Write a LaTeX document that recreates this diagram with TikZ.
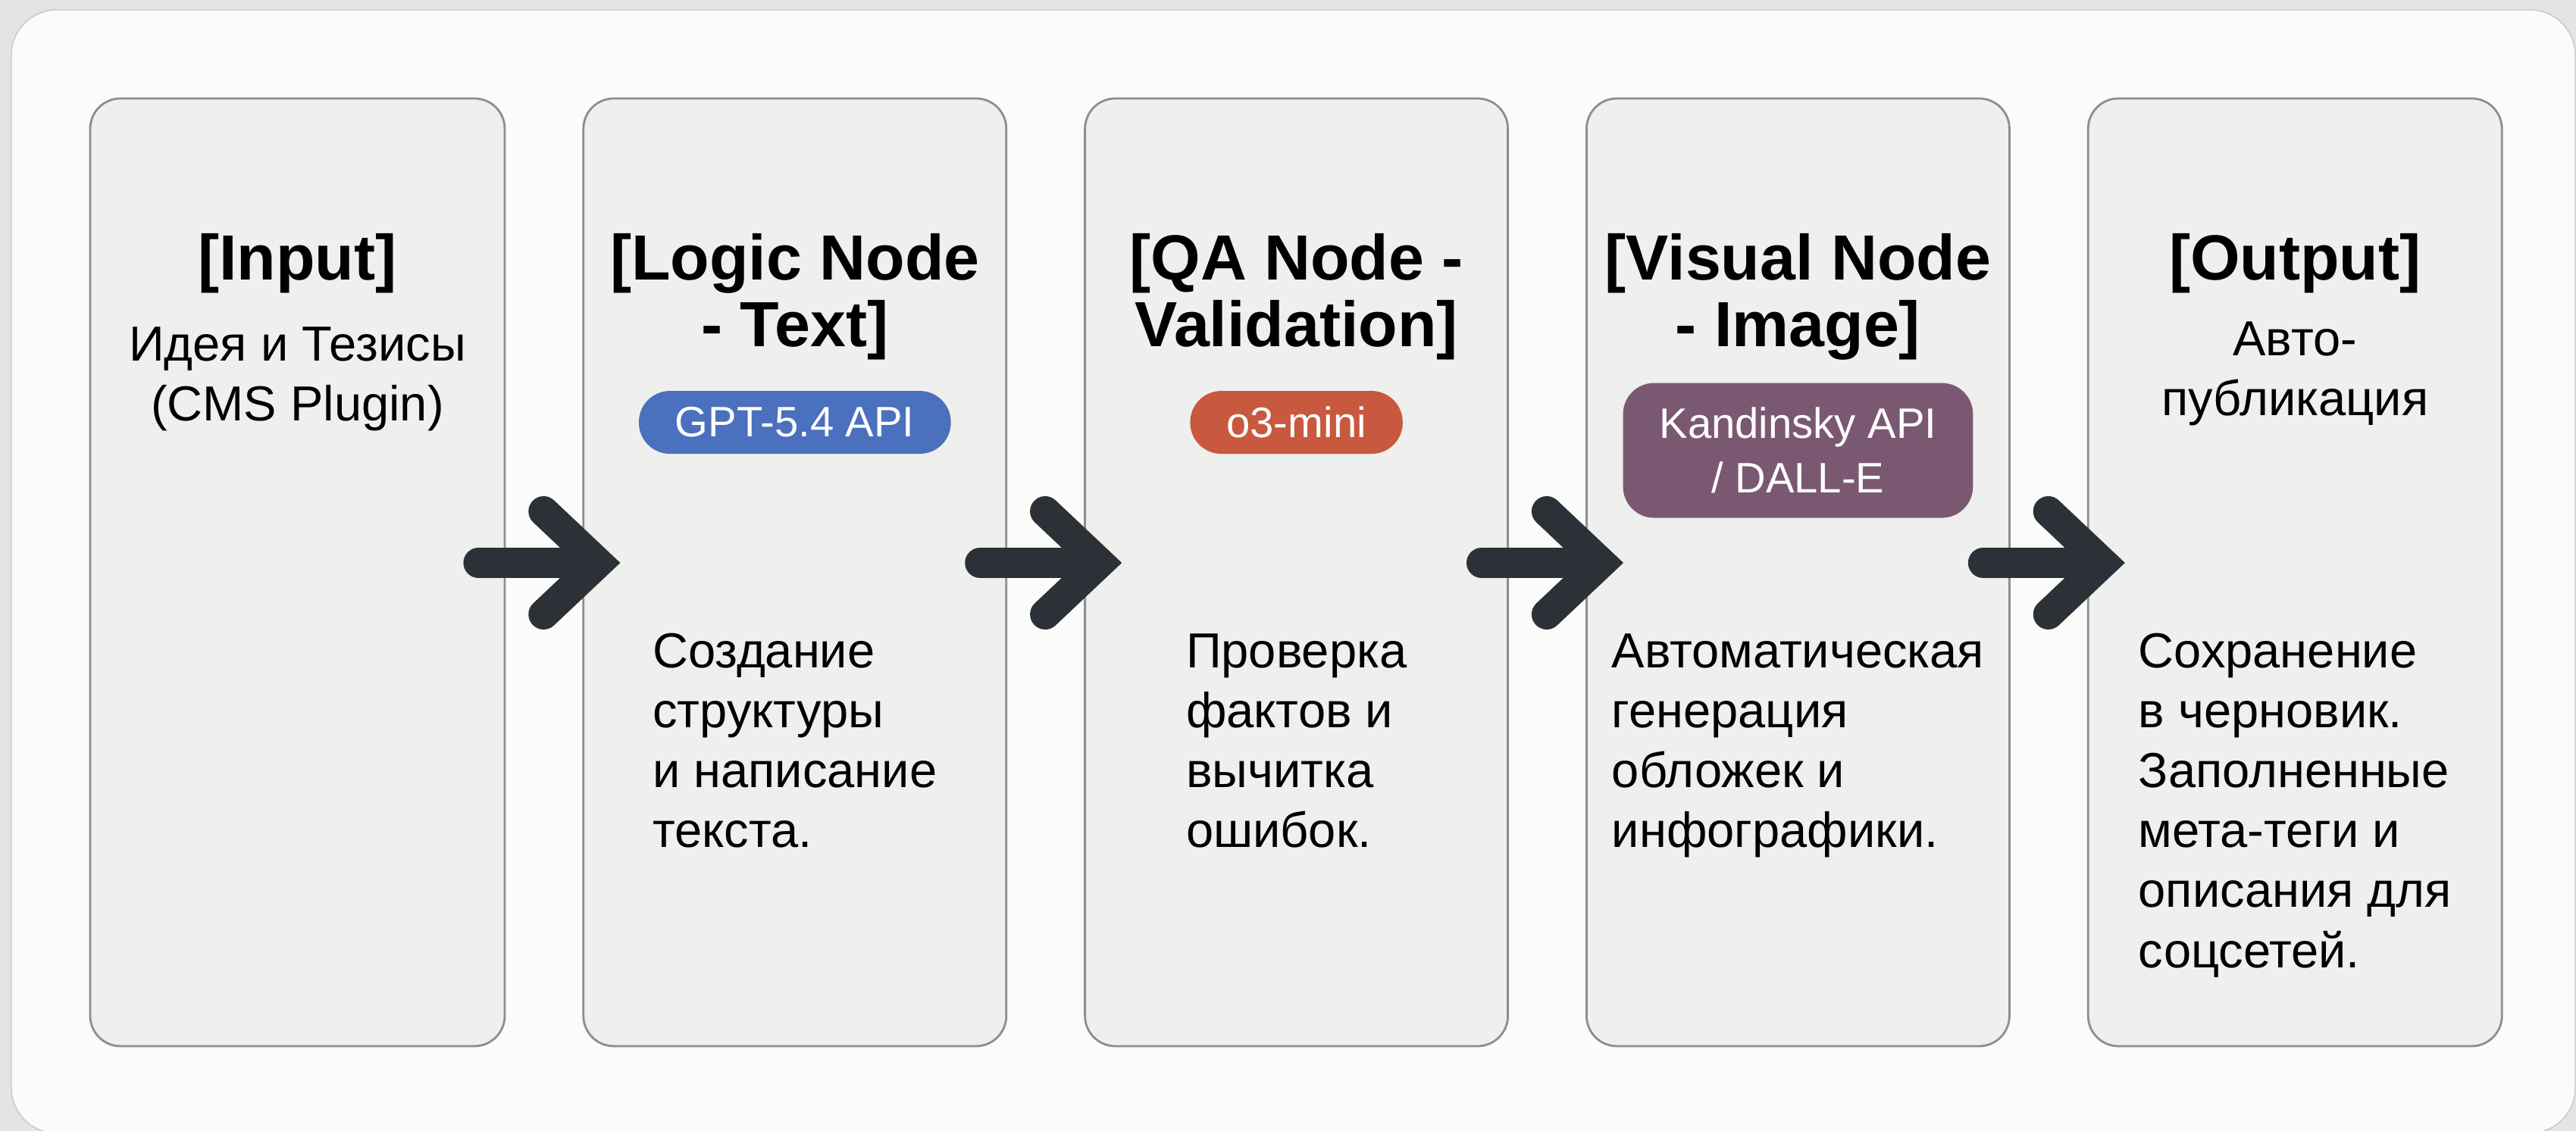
\documentclass[tikz,border=0pt]{standalone}
\usepackage{fontspec}
\setmainfont{Liberation Sans}
\usetikzlibrary{positioning,arrows.meta}
\definecolor{bggray}{HTML}{E4E4E2}
\definecolor{panelwhite}{HTML}{FBFBFA}
\definecolor{panelline}{HTML}{C8C8C6}
\definecolor{cardfill}{HTML}{EFEFED}
\definecolor{cardline}{HTML}{8E8E8E}
\definecolor{gptblue}{HTML}{4A70BE}
\definecolor{qaorange}{HTML}{C8583E}
\definecolor{visualpurple}{HTML}{7A5872}
\definecolor{arrowdark}{HTML}{2B3136}
\tikzset{
  card/.style={draw=cardline, line width=0.8pt, fill=cardfill, rounded corners=0.4cm,
    minimum width=5.58cm, minimum height=12.51cm, inner sep=0pt},
  head/.style={font=\fontsize{24}{25}\selectfont\bfseries, align=center, inner sep=0pt, anchor=north},
  body/.style={font=\fontsize{18.5}{22.5}\selectfont, inner sep=0pt, anchor=north},
  pill/.style={text=white, font=\fontsize{16}{20.4}\selectfont, align=center, rounded corners=0.41cm,
    minimum height=0.83cm, inner xsep=0.48cm, inner ysep=0.1cm},
  flow/.style={draw=arrowdark, line width=0.4cm, line cap=round,
    -{Straight Barb[length=0.72cm, width=1.36cm, line cap=round, line join=miter]},
    shorten <=-0.36cm, shorten >=-0.5cm}
}
\begin{document}
\begin{tikzpicture}
\useasboundingbox (0,0) rectangle (33.99,14.93);
\fill[bggray] (0,0) rectangle (33.99,14.93);
\draw[panelline, fill=panelwhite, rounded corners=0.6cm] (0.15,14.80) rectangle (33.98,-0.03);

\node[card, minimum width=5.47cm] (in) at (3.925,7.375) {};
\node[card, right=1.01cm of in] (logic) {};
\node[card, right=1.01cm of logic] (qa) {};
\node[card, right=1.01cm of qa] (visual) {};
\node[card, minimum width=5.46cm, right=1.01cm of visual] (out) {};

\node[head] (inT) at ([yshift=-1.79cm]in.north) {[Input]};
\node[head] (logicT) at ([yshift=-1.79cm]logic.north) {[Logic Node\\- Text]};
\node[head] (qaT) at ([yshift=-1.79cm]qa.north) {[QA Node -\\Validation]};
\node[head] (visualT) at ([yshift=-1.79cm]visual.north) {[Visual Node\\- Image]};
\node[head] (outT) at ([yshift=-1.79cm]out.north) {[Output]};

\node[body, align=center] (inS) at ([yshift=-3.02cm]in.north) {Идея и Тезисы\\(CMS Plugin)};
\node[body, align=center] (outS) at ([yshift=-2.95cm]out.north) {Авто-\\публикация};

\node[pill, fill=gptblue] (gpt) at ([yshift=-4.29cm]logic.north) {GPT-5.4 API};
\node[pill, fill=qaorange] (mini) at ([yshift=-4.29cm]qa.north) {o3-mini};
\node[pill, fill=visualpurple, minimum height=1.78cm] (kand) at ([yshift=-4.66cm]visual.north) {Kandinsky API\\/ DALL-E};

\node[body, align=left] (logicD) at ([yshift=-7.07cm]logic.north) {Создание\\структуры\\и написание\\текста.};
\node[body, align=left] (qaD) at ([yshift=-7.07cm]qa.north) {Проверка\\фактов и\\вычитка\\ошибок.};
\node[body, align=left] (visualD) at ([yshift=-7.07cm]visual.north) {Автоматическая\\генерация\\обложек и\\инфографики.};
\node[body, align=left] (outD) at ([yshift=-7.07cm]out.north) {Сохранение\\в черновик.\\Заполненные\\мета-теги и\\описания для\\соцсетей.};

\draw[flow] ([yshift=0.125cm]in.east) -- ([yshift=0.125cm]logic.west);
\draw[flow] ([yshift=0.125cm]logic.east) -- ([yshift=0.125cm]qa.west);
\draw[flow] ([yshift=0.125cm]qa.east) -- ([yshift=0.125cm]visual.west);
\draw[flow] ([yshift=0.125cm]visual.east) -- ([yshift=0.125cm]out.west);
\end{tikzpicture}
\end{document}
